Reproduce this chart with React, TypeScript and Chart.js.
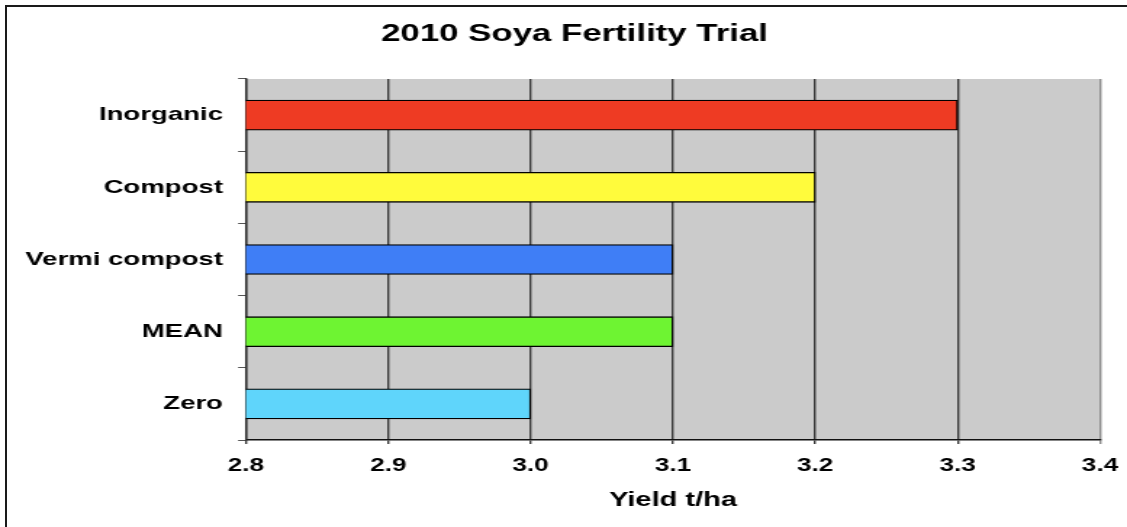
import React, { useEffect, useRef } from "react";
import { Chart, registerables } from "chart.js";

Chart.register(...registerables);

const categories = ["Inorganic", "Compost", "Vermi compost", "MEAN", "Zero"];
const yields = [3.3, 3.2, 3.1, 3.1, 3.0];
const barColors = ["#EE3B23", "#FFFB3C", "#3F7EF6", "#6EF432", "#5FD5FB"];
const xTickValues = [2.8, 2.9, 3.0, 3.1, 3.2, 3.3, 3.4];
const chartTitle = "2010 Soya Fertility Trial";
const xAxisTitle = "Yield t/ha";

const PAGE_W = 1127;
const PAGE_H = 527;
const CANVAS_W = 777;
const SX = PAGE_W / CANVAS_W;
const FONT = "'Liberation Sans', Arial, sans-serif";
const TITLE_CENTER = 574.5 / SX;

const plotBg = {
  id: "plotBg",
  afterLayout(chart: any) {
    const tb = chart.titleBlock;
    if (tb) {
      tb.left = 0;
      tb.right = TITLE_CENTER * 2;
      tb.width = TITLE_CENTER * 2;
    }
  },
  beforeDraw(chart: any) {
    const { ctx, chartArea } = chart;
    ctx.save();
    ctx.fillStyle = "#ffffff";
    ctx.fillRect(0, 0, chart.width, chart.height);
    ctx.fillStyle = "#CBCBCB";
    ctx.fillRect(chartArea.left, chartArea.top, chartArea.right - chartArea.left, chartArea.bottom - chartArea.top);
    ctx.restore();
  },
};

export default function App() {
  const ref = useRef<HTMLCanvasElement | null>(null);

  useEffect(() => {
    if (!ref.current) return;
    const chart = new Chart(ref.current, {
      type: "bar",
      data: {
        labels: categories,
        datasets: [
          {
            data: yields,
            backgroundColor: barColors,
            borderColor: "#000000",
            borderWidth: 1.3,
            barThickness: 30,
          },
        ],
      },
      plugins: [plotBg],
      options: {
        indexAxis: "y",
        responsive: false,
        animation: false,
        devicePixelRatio: 1,
        layout: { padding: { left: 0, right: CANVAS_W - 1100 / SX, top: 0, bottom: 0 } },
        plugins: {
          legend: { display: false },
          tooltip: { enabled: false },
          title: {
            display: true,
            text: chartTitle,
            color: "#000",
            font: { family: FONT, size: 24, weight: "bold" },
            padding: { top: 19.6, bottom: 30.6 },
          },
        },
        scales: {
          x: {
            type: "linear",
            min: 2.8,
            max: 3.4,
            afterBuildTicks: (scale: any) => {
              scale.ticks = xTickValues.map((v) => ({ value: v }));
            },
            afterFit: (scale: any) => {
              scale.height = 87;
              scale.paddingRight = 0;
              scale.paddingLeft = 0;
            },
            grid: {
              color: (ctx: any) => (ctx.tick && ctx.tick.value >= 3.399 ? "#8a8a8a" : "#3a3a3a"),
              lineWidth: 1.4,
              tickLength: 4,
              drawTicks: true,
            },
            border: { color: "#111", width: 1.5 },
            ticks: {
              color: "#000",
              font: { family: FONT, size: 18, weight: "bold" },
              padding: 11,
              maxRotation: 0,
              autoSkip: false,
              callback: (v: any) => Number(v).toFixed(1),
            },
            title: {
              display: true,
              text: xAxisTitle,
              color: "#000",
              font: { family: FONT, size: 20, weight: "bold" },
              padding: { top: 0, bottom: 15 },
            },
          },
          y: {
            type: "category",
            afterFit: (scale: any) => {
              scale.width = 246 / SX;
            },
            grid: {
              drawOnChartArea: false,
              drawTicks: true,
              tickLength: 5.5,
              color: "#555",
              lineWidth: 1,
              offset: true,
            },
            border: { color: "#333", width: 1.4 },
            ticks: {
              color: "#000",
              font: { family: FONT, size: 19, weight: "bold" },
              padding: 10.4,
            },
          },
        },
      },
    } as any);
    return () => chart.destroy();
  }, []);

  return (
    <div
      style={{
        position: "fixed",
        left: 0,
        top: 0,
        width: PAGE_W,
        height: PAGE_H,
        background: "#fff",
        overflow: "hidden",
      }}
    >
      <canvas
        ref={ref}
        width={CANVAS_W}
        height={PAGE_H}
        style={{
          position: "absolute",
          left: 0,
          top: 0,
          width: CANVAS_W,
          height: PAGE_H,
          transform: `scaleX(${SX})`,
          transformOrigin: "0 0",
        }}
      />
      <div
        style={{
          position: "absolute",
          left: 5,
          top: 5,
          width: PAGE_W,
          height: PAGE_H,
          borderLeft: "2px solid #1a1a1a",
          borderTop: "2px solid #1a1a1a",
          pointerEvents: "none",
        }}
      />
    </div>
  );
}
